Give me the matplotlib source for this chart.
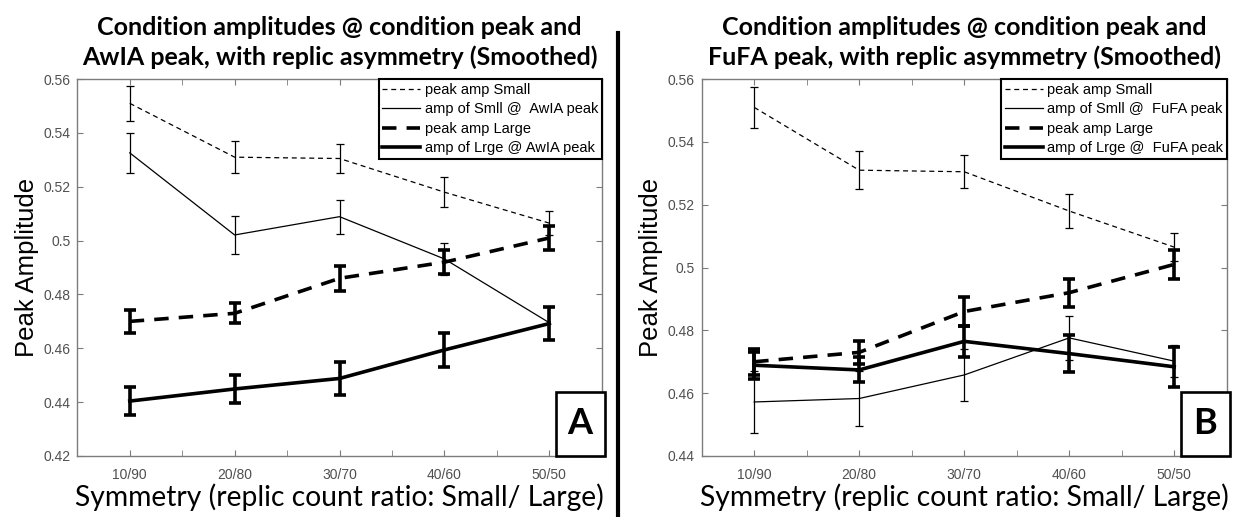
import matplotlib
matplotlib.use('Agg')
import matplotlib.pyplot as plt
from matplotlib.patches import Rectangle
from matplotlib.lines import Line2D
from matplotlib.ticker import MultipleLocator

ratios = ['10/90', '20/80', '30/70', '40/60', '50/50']
xpos = [1, 2, 3, 4, 5]

# peak amplitudes, same in both panels
peak_small = [0.551, 0.531, 0.5305, 0.518, 0.5065]
peak_small_err = [0.0066, 0.006, 0.0053, 0.0055, 0.0045]
peak_large = [0.470, 0.473, 0.486, 0.492, 0.501]
peak_large_err = [0.0042, 0.0037, 0.0047, 0.0045, 0.0045]

# panel A: amplitudes at AwIA peak
small_awia = [0.5326, 0.5021, 0.5089, 0.4932, 0.4695]
small_awia_err = [0.0075, 0.0072, 0.0063, 0.006, 0.006]
large_awia = [0.4404, 0.4449, 0.4488, 0.4594, 0.4692]
large_awia_err = [0.0053, 0.0053, 0.0063, 0.0062, 0.0062]

# panel B: amplitudes at FuFA peak
small_fufa = [0.4572, 0.4583, 0.4658, 0.4776, 0.4702]
small_fufa_err = [0.010, 0.0087, 0.0083, 0.0071, 0.005]
large_fufa = [0.4689, 0.4674, 0.4765, 0.4726, 0.4684]
large_fufa_err = [0.0043, 0.004, 0.005, 0.0058, 0.0064]

yticks_a = [0.42, 0.44, 0.46, 0.48, 0.50, 0.52, 0.54, 0.56]
ylabels_a = ['0.42', '0.44', '0.46', '0.48', '0.5', '0.52', '0.54', '0.56']
yticks_b = [0.44, 0.46, 0.48, 0.50, 0.52, 0.54, 0.56]
ylabels_b = ['0.44', '0.46', '0.48', '0.5', '0.52', '0.54', '0.56']

GRAY = '#7c7c7c'
TXT = '#505050'
THIN = 0.9
THICK = 2.6


def draw_panel(ax, small_at, small_at_err, large_at, large_at_err, small_lbl, large_lbl,
               yticks, ylabels, title, letter):
    ax.errorbar(xpos, peak_small, yerr=peak_small_err, fmt='none', ecolor='black',
                elinewidth=THIN, capsize=3, capthick=THIN)
    ax.errorbar(xpos, small_at, yerr=small_at_err, fmt='none', ecolor='black',
                elinewidth=THIN, capsize=3, capthick=THIN)
    ax.errorbar(xpos, peak_large, yerr=peak_large_err, fmt='none', ecolor='black',
                elinewidth=THICK, capsize=4, capthick=THICK)
    ax.errorbar(xpos, large_at, yerr=large_at_err, fmt='none', ecolor='black',
                elinewidth=THICK, capsize=4, capthick=THICK)

    ax.plot(xpos, peak_small, color='black', lw=THIN, ls=(0, (4, 3)), label='peak amp Small')
    ax.plot(xpos, small_at, color='black', lw=THIN, label=small_lbl)
    ax.plot(xpos, peak_large, color='black', lw=THICK, ls=(0, (4, 2.8)), label='peak amp Large')
    ax.plot(xpos, large_at, color='black', lw=THICK, label=large_lbl)

    ax.set_xlim(0.5, 5.5)
    ax.set_ylim(yticks[0], yticks[-1])
    ax.set_xticks(xpos)
    ax.set_xticklabels(ratios)
    ax.xaxis.set_minor_locator(MultipleLocator(0.5))
    ax.set_yticks(yticks)
    ax.set_yticklabels(ylabels)
    ax.tick_params(which='both', direction='in', top=True, right=True, length=4,
                   color=GRAY, labelcolor=TXT, labelsize=10)
    ax.tick_params(axis='x', which='major', pad=9)
    ax.tick_params(axis='y', pad=5)
    for s in ax.spines.values():
        s.set_color(GRAY)
        s.set_linewidth(1)
    for lab in ax.get_xticklabels() + ax.get_yticklabels():
        lab.set_family('Liberation Sans')

    ax.set_ylabel('Peak Amplitude', fontsize=18.5, family='Liberation Sans', labelpad=3)
    ax.set_xlabel('Symmetry (replic count ratio: Small/ Large)', fontsize=20.3,
                  family='Lato', labelpad=1)
    ax.set_title(title, fontsize=18, fontweight='bold', family='Lato', linespacing=1.35, pad=10)

    leg = ax.legend(loc='upper right', bbox_to_anchor=(1.0, 1.0), borderaxespad=0,
                    prop={'family': 'Liberation Sans', 'size': 10.5}, handlelength=2.6,
                    handletextpad=0.3, labelspacing=0.38, borderpad=0.25,
                    fancybox=False, framealpha=1)
    leg.get_frame().set_edgecolor('black')
    leg.get_frame().set_linewidth(1.5)
    leg.set_zorder(10)

    box = Rectangle((0.912, 0.0), 0.094, 0.17, transform=ax.transAxes, facecolor='white',
                    edgecolor='black', lw=1.9, clip_on=False, zorder=11)
    ax.add_patch(box)
    ax.text(0.959, 0.085, letter, transform=ax.transAxes, ha='center', va='center',
            fontsize=26, fontweight='bold', family='Lato', zorder=12)


fig = plt.figure(figsize=(12.41, 5.17), dpi=100)
ax_a = fig.add_axes([0.0623, 0.118, 0.4226, 0.729])
ax_b = fig.add_axes([0.5654, 0.118, 0.4231, 0.729])

draw_panel(ax_a, small_awia, small_awia_err, large_awia, large_awia_err,
           'amp of Smll @  AwIA peak', 'amp of Lrge @ AwIA peak', yticks_a, ylabels_a,
           'Condition amplitudes @ condition peak and\nAwIA peak, with replic asymmetry (Smoothed)', 'A')
draw_panel(ax_b, small_fufa, small_fufa_err, large_fufa, large_fufa_err,
           'amp of Smll @  FuFA peak', 'amp of Lrge @  FuFA peak', yticks_b, ylabels_b,
           'Condition amplitudes @ condition peak and\nFuFA peak, with replic asymmetry (Smoothed)', 'B')

# separator between the two panels
fig.add_artist(Line2D([0.4977, 0.4977], [0.0, 0.936], transform=fig.transFigure,
                      color='black', lw=3))

fig.savefig('out.png', dpi=100)
